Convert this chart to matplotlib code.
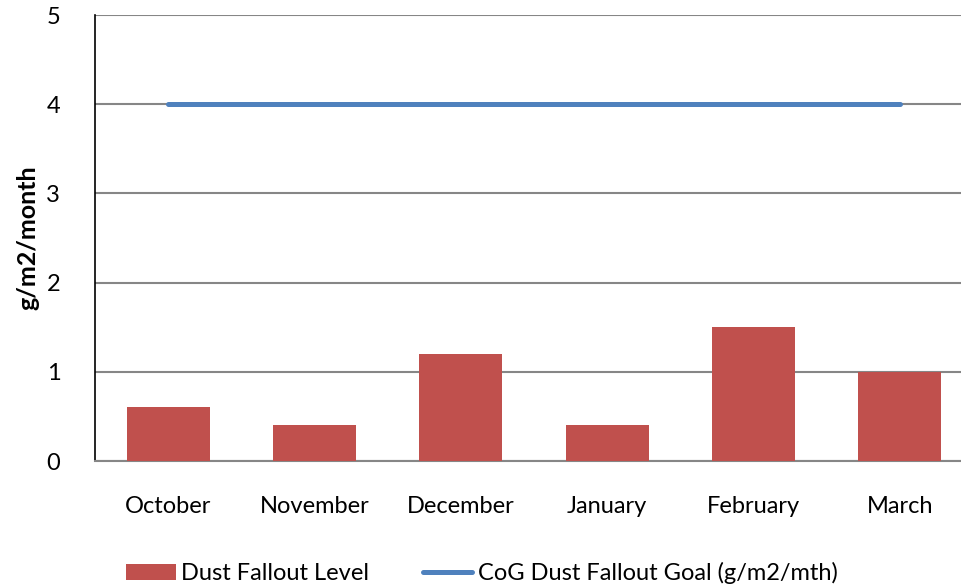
import numpy as np
import matplotlib
matplotlib.use('Agg')
from matplotlib import pyplot as plt

months = ['October', 'November', 'December', 'January', 'February', 'March']
dust_level = [0.6, 0.4, 1.2, 0.4, 1.5, 1.0]
goal = [4, 4, 4, 4, 4, 4]
y_ticks = [0, 1, 2, 3, 4, 5]

plt.rcParams['font.family'] = ['Lato', 'DejaVu Sans']

fig = plt.figure(figsize=(9.62, 5.86), dpi=100)
# plot area runs a little past the right edge of the picture, as in the reference
ax = fig.add_axes([95 / 962, 125 / 586, 878 / 962, 446 / 586])

x = np.arange(len(months))
bars = ax.bar(x, dust_level, width=0.567, color='#C0504D', zorder=3,
              label='Dust Fallout Level')
line, = ax.plot(x, goal, color='#4F81BD', linewidth=3.6, solid_capstyle='round',
                zorder=4, label='CoG Dust Fallout Goal (g/m2/mth)')

ax.set_xlim(-0.5, len(months) - 0.5)
ax.set_ylim(0, 5)
ax.set_yticks(y_ticks)
ax.set_xticks(x)
ax.set_xticklabels(months)
ax.tick_params(axis='both', length=0, labelsize=17, colors='black')
ax.tick_params(axis='x', pad=25)
ax.tick_params(axis='y', pad=25)
ax.yaxis.grid(True, color='#868686', linewidth=1.5, zorder=0)

for s in ['top', 'right']:
    ax.spines[s].set_visible(False)
ax.spines['left'].set_color('black')
ax.spines['left'].set_linewidth(1.2)
ax.spines['bottom'].set_color('#868686')
ax.spines['bottom'].set_linewidth(1.5)

fig.text(28 / 962, 1 - 238 / 586, 'g/m2/month', fontsize=18, fontweight='bold',
         rotation=90, ha='center', va='center')

fig.legend(handles=[bars, line], loc='lower center', ncol=2, frameon=False,
           fontsize=17, bbox_to_anchor=(0.501, -0.033), handlelength=2.1,
           handletextpad=0.25, columnspacing=2.25)

fig.savefig('out.png', dpi=100)
